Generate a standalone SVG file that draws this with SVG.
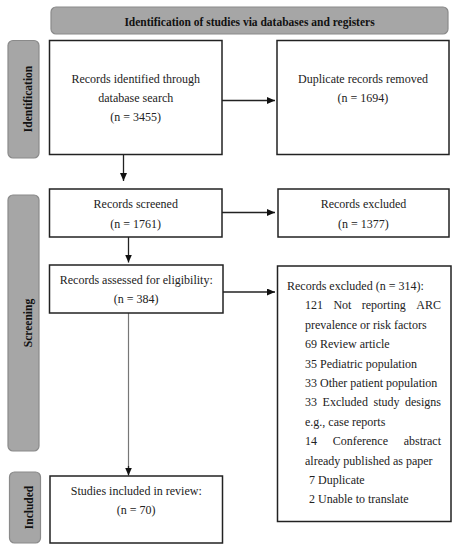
<svg xmlns="http://www.w3.org/2000/svg" width="457" height="550" viewBox="0 0 457 550">
<defs>
<style>
.box{fill:#fff;stroke:#222;stroke-width:1.5}
.lbl{fill:#a6a6a6;stroke:#8a8a8a;stroke-width:1.2}
.t{font-family:"Liberation Serif","Times New Roman",serif;font-size:12px;fill:#222}
.c{text-anchor:middle}
.b{font-family:"Liberation Serif","Times New Roman",serif;font-size:11.5px;font-weight:bold;fill:#111;text-anchor:middle}
.ln{stroke:#222;stroke-width:1.3;fill:none}
.gl{stroke:#777;stroke-width:1.2;fill:none}
</style>
<marker id="ah" markerUnits="userSpaceOnUse" markerWidth="8" markerHeight="7" refX="8" refY="3.5" orient="auto">
<path d="M0,0 L8,3.5 L0,7 z" fill="#111"/>
</marker>
</defs>
<rect width="457" height="550" fill="#fff"/>

<g id="banner">
<rect class="lbl" x="51" y="7" width="397" height="27" rx="5"/>
<text class="b" x="249.5" y="25.5">Identification of studies via databases and registers</text>
</g>

<g id="label-identification">
<rect class="lbl" x="8" y="40.5" width="31" height="117.5" rx="5"/>
<text class="b" transform="translate(27.5,99) rotate(-90)" y="4">Identification</text>
</g>
<g id="label-screening">
<rect class="lbl" x="8" y="195" width="31" height="256" rx="5"/>
<text class="b" transform="translate(27.5,323) rotate(-90)" y="4">Screening</text>
</g>
<g id="label-included">
<rect class="lbl" x="9.5" y="472" width="31" height="71" rx="5"/>
<text class="b" transform="translate(29,507.5) rotate(-90)" y="4">Included</text>
</g>

<g id="connectors">
<line class="ln" x1="222" y1="100.5" x2="275" y2="100.5" marker-end="url(#ah)"/>
<line class="ln" x1="123.5" y1="154.5" x2="123.5" y2="181" marker-end="url(#ah)"/>
<line class="ln" x1="222" y1="212.5" x2="275" y2="212.5" marker-end="url(#ah)"/>
<line class="ln" x1="128.5" y1="237" x2="128.5" y2="262.5" marker-end="url(#ah)"/>
<line class="ln" x1="223" y1="292" x2="275" y2="292" marker-end="url(#ah)"/>
<line class="gl" x1="128.5" y1="313" x2="128.5" y2="468"/>
<line class="ln" x1="128.5" y1="466" x2="128.5" y2="475.5" marker-end="url(#ah)"/>
</g>

<g id="records-identified">
<rect class="box" x="49.5" y="40.5" width="172.5" height="114"/>
<text class="t c" x="135.75" y="83">Records identified through</text>
<text class="t c" x="135.75" y="102">database search</text>
<text class="t c" x="135.75" y="121">(n = 3455)</text>
</g>

<g id="duplicates-removed">
<rect class="box" x="277" y="40.5" width="172" height="114"/>
<text class="t c" x="363" y="83">Duplicate records removed</text>
<text class="t c" x="363" y="102">(n = 1694)</text>
</g>

<g id="records-screened">
<rect class="box" x="49.5" y="189" width="172.5" height="48"/>
<text class="t c" x="135.75" y="208">Records screened</text>
<text class="t c" x="135.75" y="228">(n = 1761)</text>
</g>

<g id="records-excluded">
<rect class="box" x="278" y="189" width="171" height="48"/>
<text class="t c" x="363.5" y="208">Records excluded</text>
<text class="t c" x="363.5" y="228">(n = 1377)</text>
</g>

<g id="records-assessed">
<rect class="box" x="49.5" y="265" width="173.5" height="48"/>
<text class="t c" x="136.25" y="283.5">Records assessed for eligibility:</text>
<text class="t c" x="136.25" y="303">(n = 384)</text>
</g>

<g id="records-excluded-314">
<rect class="box" x="277.5" y="266" width="173.5" height="255.5"/>
<text class="t" x="287" y="290">Records excluded (n = 314):</text>
<text class="t" y="309"><tspan x="305">121</tspan><tspan x="333.4">Not</tspan><tspan x="361.8">reporting</tspan><tspan x="441" text-anchor="end">ARC</tspan></text>
<text class="t" x="305" y="328.5">prevalence or risk factors</text>
<text class="t" x="305" y="348">69 Review article</text>
<text class="t" x="305" y="367.5">35 Pediatric population</text>
<text class="t" x="305" y="387">33 Other patient population</text>
<text class="t" y="406"><tspan x="305">33</tspan><tspan x="322.6">Excluded</tspan><tspan x="373.5">study</tspan><tspan x="441" text-anchor="end">designs</tspan></text>
<text class="t" x="305" y="425.5">e.g., case reports</text>
<text class="t" y="445"><tspan x="305">14</tspan><tspan x="332.7">Conference</tspan><tspan x="441" text-anchor="end">abstract</tspan></text>
<text class="t" x="305" y="464.5">already published as paper</text>
<text class="t" x="309" y="484">7 Duplicate</text>
<text class="t" x="309" y="503">2 Unable to translate</text>
</g>

<g id="studies-included">
<rect class="box" x="50" y="476" width="172.5" height="67"/>
<text class="t c" x="136.25" y="495">Studies included in review:</text>
<text class="t c" x="136.25" y="514">(n = 70)</text>
</g>
</svg>
